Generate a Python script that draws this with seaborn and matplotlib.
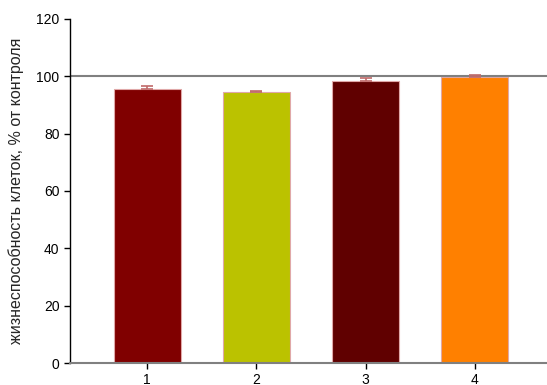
import numpy as np
import pandas as pd
import matplotlib
matplotlib.use("Agg")
import matplotlib.pyplot as plt
import seaborn as sns

groups = ["1", "2", "3", "4"]
viability = [95.4, 94.4, 98.5, 99.9]
errors = [1.3, 0.3, 0.8, 0.4]
colors = ["#800000", "#bbc200", "#600000", "#ff8000"]

sns.set_style("white")
plt.rcParams["font.family"] = ["Liberation Sans", "DejaVu Sans"]

df = pd.DataFrame({"group": groups, "value": viability})

fig = plt.figure(figsize=(5.47, 3.85), dpi=100)
ax = fig.add_axes([0.128, 0.057, 0.872, 0.894])

sns.barplot(data=df, x="group", y="value", hue="group", palette=colors,
            saturation=1, width=0.615, edgecolor="#e0a8a8", linewidth=0.8,
            legend=False, errorbar=None, ax=ax)

xpos = np.arange(len(groups))
ax.errorbar(xpos, viability, yerr=[np.zeros(len(errors)), errors],
            fmt="none", ecolor="#c06a6a", elinewidth=1.2, capsize=4,
            capthick=1.2, zorder=3)

ax.axhline(100, color="#808080", linewidth=1.5, zorder=1)

ax.set_xlim(-0.706, 3.66)
ax.set_ylim(0, 120)
ax.set_yticks(range(0, 121, 20))
ax.set_xlabel("")
ax.set_ylabel("жизнеспособность клеток, % от контроля", fontsize=11.5,
              labelpad=9)

sns.despine(ax=ax)
ax.spines["left"].set_color("black")
ax.spines["left"].set_linewidth(1.0)
ax.spines["bottom"].set_color("#808080")
ax.spines["bottom"].set_linewidth(1.5)
ax.tick_params(axis="both", direction="out", length=4, width=1,
               colors="black", labelsize=10, bottom=True, left=True)

fig.savefig("out.png", dpi=100)
